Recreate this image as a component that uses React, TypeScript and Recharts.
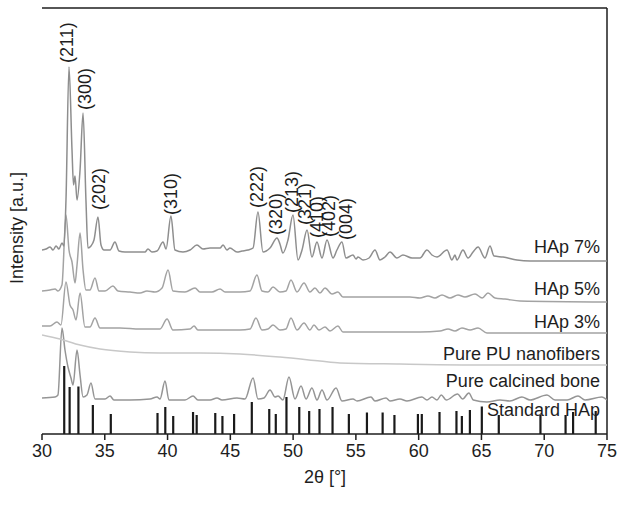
import { ComposedChart, Line, Scatter, XAxis, YAxis, ReferenceLine } from 'recharts';

// 2θ positions and heights of the standard HAp reflections
const STICK_POS = [31.77, 32.2, 32.9, 34.05, 35.48, 39.2, 39.82, 40.45, 42.03, 42.32, 43.8, 44.37, 45.3, 46.71, 48.1, 48.62, 49.47, 50.49, 51.28, 52.1, 53.14, 54.44, 55.88, 57.13, 58.07, 59.94, 60.25, 61.66, 63.01, 63.44, 64.08, 65.03, 66.38, 69.7, 71.7, 72.3, 74.1];
const STICK_H = [68, 47, 47.5, 29, 20, 21, 27, 18, 22, 19, 21, 18, 20, 32, 25, 20, 37, 27, 23, 25, 27, 20, 21.5, 21.5, 19, 20, 20, 22, 23, 18, 24, 27.5, 19, 19, 19, 22, 23];

// measured patterns, [2θ, intensity a.u. incl. vertical offset]
const HAP7: [number, number][] = [
  [30, 184], [30.32, 185], [30.64, 187], [30.88, 184], [31.12, 188], [31.35, 185], [31.59, 191], [31.75, 188],
  [31.91, 234], [32.15, 367], [32.39, 284], [32.51, 249], [32.63, 258], [32.79, 234], [33.03, 264], [33.27, 321],
  [33.5, 234], [33.66, 186], [33.9, 188], [34.14, 194], [34.46, 217], [34.7, 189], [34.94, 184], [35.42, 184],
  [35.81, 192], [36.13, 183], [36.61, 182], [37.41, 182], [38.2, 182], [38.44, 185], [38.76, 182], [39.16, 183],
  [39.64, 192], [39.88, 185], [40.27, 218], [40.59, 184], [41.23, 182], [41.79, 184], [42.34, 189], [42.82, 185],
  [43.38, 186], [44.18, 186], [44.42, 189], [44.73, 184], [44.97, 186], [45.53, 182], [45.93, 183], [46.41, 184],
  [46.81, 186], [47.2, 222], [47.6, 182], [48.16, 186], [48.72, 196], [48.95, 190], [49.19, 181], [49.59, 194],
  [49.99, 219], [50.39, 174], [50.71, 184], [51.11, 204], [51.5, 177], [51.9, 192], [52.3, 176], [52.7, 194],
  [53.18, 176], [53.49, 184], [53.89, 192], [54.21, 176], [54.77, 179], [55.01, 175], [55.17, 177], [55.57, 174],
  [56.05, 176], [56.52, 184], [56.92, 174], [57.32, 177], [57.72, 182], [58.27, 176], [58.75, 179], [59.47, 176],
  [60.1, 176], [60.66, 184], [61.06, 179], [61.46, 177], [62.26, 184], [62.65, 174], [62.89, 179], [63.05, 174],
  [63.53, 184], [63.93, 176], [64.33, 182], [64.73, 187], [65.28, 176], [65.68, 188], [66.0, 178], [66.72, 177],
  [67.83, 174], [68.87, 173], [75, 173],
];
const HAP5: [number, number][] = [
  [30, 143], [30.64, 144], [31.04, 145], [31.27, 143], [31.59, 149], [31.91, 219], [32.15, 184], [32.39, 172],
  [32.63, 151], [32.79, 169], [33.03, 201], [33.27, 164], [33.5, 144], [33.82, 144], [34.22, 156], [34.54, 143],
  [35.02, 143], [35.65, 148], [36.05, 143], [37.01, 142], [37.81, 141], [38.36, 143], [39.0, 142], [39.56, 146],
  [40.04, 164], [40.43, 143], [41.39, 142], [42.19, 146], [42.58, 142], [43.54, 142], [44.18, 145], [44.58, 142],
  [45.77, 142], [46.57, 143], [47.12, 159], [47.52, 143], [48.0, 142], [48.4, 147], [48.95, 142], [49.43, 143],
  [49.83, 154], [50.31, 142], [50.87, 151], [51.34, 142], [51.74, 146], [52.14, 141], [52.54, 146], [53.1, 140],
  [53.57, 142], [53.97, 137], [54.93, 137], [56.12, 137], [57.72, 137], [59.31, 137], [60.1, 136], [60.74, 138],
  [61.3, 136], [61.86, 139], [62.49, 136], [63.13, 139], [63.69, 137], [64.49, 140], [65.06, 136], [65.52, 141],
  [66.08, 136], [66.88, 135], [68.07, 133], [75, 132],
];
const HAP3: [number, number][] = [
  [30, 108], [30.64, 108], [31.19, 112], [31.51, 109], [31.91, 152], [32.23, 129], [32.47, 124], [32.71, 114],
  [33.03, 141], [33.42, 107], [33.82, 107], [34.22, 116], [34.62, 106], [36.21, 106], [37.81, 105], [39.4, 105],
  [39.96, 115], [40.43, 104], [41.79, 105], [42.11, 108], [42.42, 104], [44.18, 104], [45.77, 104], [46.57, 105],
  [47.04, 116], [47.52, 104], [48.0, 105], [48.4, 109], [48.95, 104], [49.43, 105], [49.83, 116], [50.31, 104],
  [50.87, 111], [51.34, 104], [51.66, 109], [52.06, 104], [52.54, 107], [52.94, 103], [53.57, 108], [53.97, 102],
  [55.33, 102], [57.72, 102], [60.1, 102], [61.7, 103], [62.34, 105], [62.89, 103], [63.45, 106], [64.09, 104],
  [64.73, 106], [65.44, 101], [75, 101],
];
const PU: [number, number][] = [
  [30, 99], [31.43, 95], [33.03, 89], [34.62, 85], [37.01, 82], [39.4, 81], [42.58, 81], [45.77, 80],
  [48.95, 77], [52.14, 73], [53.73, 71], [58.51, 70], [66.48, 69], [75, 69],
];
const BONE: [number, number][] = [
  [30, 36], [31.04, 37], [31.27, 39], [31.59, 106], [31.83, 84], [32.07, 67], [32.31, 56], [32.47, 49],
  [32.79, 84], [33.03, 59], [33.27, 37], [33.58, 39], [33.9, 51], [34.22, 35], [35.02, 35], [35.42, 38],
  [35.73, 34], [37.01, 34], [38.6, 35], [39.16, 37], [39.4, 35], [39.8, 53], [40.11, 34], [41.39, 34],
  [42.03, 38], [42.42, 34], [43.38, 34], [43.94, 36], [44.34, 34], [45.53, 36], [46.17, 35], [46.81, 56],
  [47.2, 35], [47.68, 36], [48.16, 44], [48.56, 37], [48.8, 38], [49.19, 34], [49.67, 57], [50.15, 35],
  [50.63, 48], [51.03, 35], [51.5, 46], [51.9, 34], [52.3, 44], [52.7, 34], [53.42, 46], [53.89, 33],
  [54.77, 35], [55.09, 33], [56.2, 37], [56.52, 33], [57.4, 36], [57.72, 33], [58.51, 35], [59.07, 33],
  [60.26, 37], [60.66, 34], [61.06, 37], [61.46, 34], [61.8, 39], [62.2, 34], [63.1, 40], [63.5, 35],
  [64.0, 41], [64.35, 34], [65.44, 32], [66.48, 34], [67.27, 33], [68.23, 37], [68.87, 34], [70.22, 39],
  [70.86, 34], [71.82, 34], [72.69, 38], [73.25, 34], [74.6, 37], [75, 34],
];

const HKL = ['(211)', '(300)', '(202)', '(310)', '(222)', '(320)', '(213)', '(321)', '(410)', '(402)', '(004)'];
const HKL_POS = [31.99, 33.4, 34.52, 40.27, 47.1, 48.61, 49.93, 50.95, 51.93, 52.86, 54.19];
const HKL_Y = [371, 324, 224, 219, 226, 199, 221, 209, 196, 197, 194];

const NAMES = ['HAp 7%', 'HAp 5%', 'HAp 3%', 'Pure PU nanofibers', 'Pure calcined bone', 'Standard HAp'];
const NAME_Y = [187.5, 145.5, 112.5, 80.5, 53, 24.5];

const toPts = (arr: [number, number][]) => arr.map(([x, y]) => ({ x, y }));
const sticks = STICK_POS.map((x, i) => [{ x, y: 0 }, { x, y: STICK_H[i] }]);
const hkl = HKL.map((t, i) => ({ x: HKL_POS[i], y: HKL_Y[i], t }));
const names = NAMES.map((t, i) => ({ x: 74.44, y: NAME_Y[i], t }));

const FONT = 'Liberation Sans, Arial, sans-serif';
const INK = '#1e1e1e';

const series = [
  { key: 'bone', data: BONE, color: '#959595' },
  { key: 'pu', data: PU, color: '#c8c8c8' },
  { key: 'hap3', data: HAP3, color: '#a3a3a3' },
  { key: 'hap5', data: HAP5, color: '#a3a3a3' },
  { key: 'hap7', data: HAP7, color: '#8e8e8e' },
];

export default function App() {
  return (
    <div style={{ position: 'absolute', left: 0, top: 0, width: 635, height: 506, background: '#fff', fontFamily: FONT }}>
      <ComposedChart width={635} height={506} margin={{ top: 8, right: 28, left: 42, bottom: 42 }}>
        <XAxis
          dataKey="x"
          type="number"
          domain={[30, 75]}
          ticks={[30, 35, 40, 45, 50, 55, 60, 65, 70, 75]}
          allowDataOverflow
          height={30}
          tickSize={6}
          axisLine={{ stroke: INK, strokeWidth: 1.5 }}
          tickLine={{ stroke: INK, strokeWidth: 1.5 }}
          tick={{ fontSize: 18, fill: INK, fontFamily: FONT, dy: 2 }}
        />
        <YAxis
          type="number"
          domain={[0, 426]}
          allowDataOverflow
          width={0}
          tick={false}
          tickLine={false}
          axisLine={{ stroke: INK, strokeWidth: 1.5 }}
        />
        <ReferenceLine y={426} stroke={INK} strokeWidth={1.5} />
        <ReferenceLine x={75} stroke={INK} strokeWidth={1.5} />
        {sticks.map((d, i) => (
          <Line
            key={`stick-${i}`}
            data={d}
            dataKey="y"
            stroke="#1a1a1a"
            strokeWidth={2.2}
            dot={false}
            activeDot={false}
            isAnimationActive={false}
          />
        ))}
        {series.map((s) => (
          <Line
            key={s.key}
            data={toPts(s.data)}
            dataKey="y"
            type="monotone"
            stroke={s.color}
            strokeWidth={1.5}
            dot={false}
            activeDot={false}
            isAnimationActive={false}
          />
        ))}
        <Scatter
          data={hkl}
          dataKey="y"
          isAnimationActive={false}
          shape={(p: any) => (
            <text
              x={p.cx}
              y={p.cy}
              transform={`rotate(-90 ${p.cx} ${p.cy})`}
              textAnchor="start"
              dominantBaseline="central"
              fontSize={18}
              fontFamily={FONT}
              fill={INK}
            >
              {p.payload.t}
            </text>
          )}
        />
        <Scatter
          data={names}
          dataKey="y"
          isAnimationActive={false}
          shape={(p: any) => (
            <text
              x={p.cx}
              y={p.cy}
              textAnchor="end"
              dominantBaseline="central"
              fontSize={18}
              fontFamily={FONT}
              fill={INK}
            >
              {p.payload.t}
            </text>
          )}
        />
      </ComposedChart>
      <div style={{ position: 'absolute', left: 0, width: 650, top: 467, textAlign: 'center', fontSize: 18, color: INK }}>
        2θ [°]
      </div>
      <div
        style={{
          position: 'absolute',
          left: 17,
          top: 228,
          transform: 'translate(-50%, -50%) rotate(-90deg)',
          whiteSpace: 'nowrap',
          fontSize: 18,
          color: INK,
        }}
      >
        Intensity [a.u.]
      </div>
    </div>
  );
}
